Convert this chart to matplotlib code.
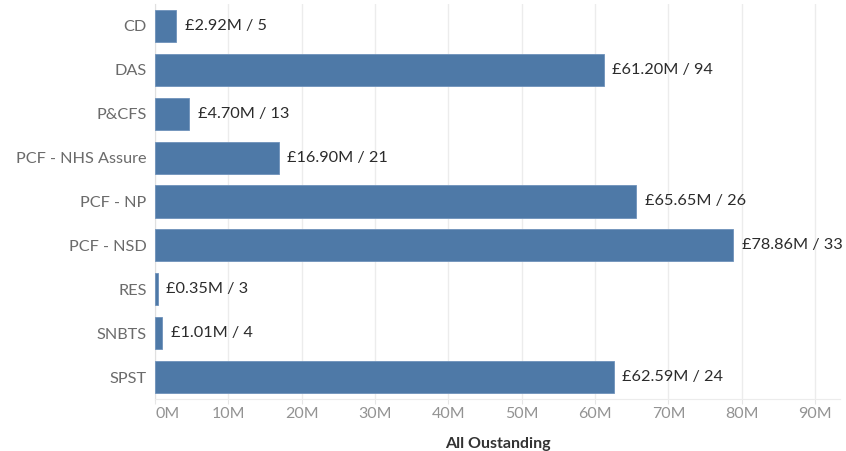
import numpy as np
import matplotlib
matplotlib.use("Agg")
import matplotlib.pyplot as plt

plt.rcParams['font.family'] = ['Lato', 'DejaVu Sans']

# Outstanding amounts (millions of pounds) and case counts per category
categories = ['CD', 'DAS', 'P&CFS', 'PCF - NHS Assure', 'PCF - NP',
              'PCF - NSD', 'RES', 'SNBTS', 'SPST']
amounts = [2.92, 61.20, 4.70, 16.90, 65.65, 78.86, 0.35, 1.01, 62.59]
counts = [5, 94, 13, 21, 26, 33, 3, 4, 24]
ticks = np.arange(0, 100, 10)

fig = plt.figure(figsize=(8.46, 4.51), dpi=100)
ax = fig.add_axes([155 / 846, 1 - 399 / 451, 685 / 846, 395 / 451])

y = np.arange(len(categories))
ax.barh(y, amounts, height=0.73, color='#4e79a7', edgecolor='#6f92bb',
        linewidth=0.6, zorder=3)

for yi, a, c in zip(y, amounts, counts):
    ax.annotate('£%.2fM / %d' % (a, c), (a, yi), xytext=(6, 0),
                textcoords='offset points', va='center', ha='left',
                fontsize=11.7, color='#2b2b2b')

ax.set_ylim(len(categories) - 0.5, -0.5)
ax.set_xlim(0, 93.4)
ax.set_yticks(y)
ax.set_yticklabels(categories, fontsize=11.7, color='#6b6b6b')
ax.set_xticks(ticks)
ax.set_xticklabels(['%dM' % t for t in ticks], fontsize=11.5, color='#939393')
ax.get_xticklabels()[0].set_horizontalalignment('left')
ax.tick_params(axis='y', length=0, pad=6)
ax.tick_params(axis='x', length=3.5, color='#e6e6e6', pad=2.5)

ax.grid(axis='x', color='#ececec', linewidth=1, zorder=0)
for s in ['top', 'right']:
    ax.spines[s].set_visible(False)
ax.spines['left'].set_color('#e0e0e0')
ax.spines['bottom'].set_color('#ececec')

ax.set_xlabel('All Oustanding', fontsize=11.5, color='#333333',
              fontweight='bold', labelpad=11)

fig.savefig('out.png', dpi=100)
